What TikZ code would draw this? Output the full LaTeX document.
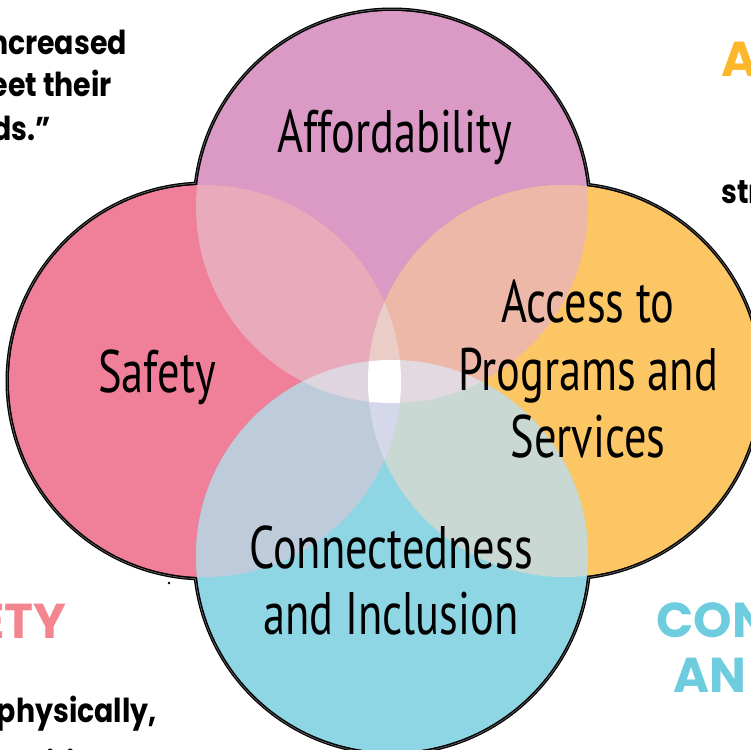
\documentclass[tikz,border=0pt]{standalone}
\usepackage{fontspec}
\newfontfamily\labelfont[FakeStretch=0.74]{PT Sans}
\newfontfamily\cornerfont[FakeStretch=0.86]{Poppins}
\newfontfamily\headfont{Poppins}
\definecolor{cT}{HTML}{DA9AC5}
\definecolor{cL}{HTML}{F0809A}
\definecolor{cR}{HTML}{FDC664}
\definecolor{cB}{HTML}{8ED6E3}
\definecolor{cTL}{HTML}{E9AABC}
\definecolor{cTR}{HTML}{EDB8A8}
\definecolor{cBL}{HTML}{BDCBDB}
\definecolor{cBR}{HTML}{C9D8D3}
\definecolor{cTLR}{HTML}{E9CDC6}
\definecolor{cBLR}{HTML}{D5D8EA}
\definecolor{cTBL}{HTML}{DED5DF}
\definecolor{cTBR}{HTML}{E3D9E1}
\definecolor{hOrange}{HTML}{FDB72A}
\definecolor{hPink}{HTML}{F4858F}
\definecolor{hCyan}{HTML}{6DCDDF}
\tikzset{
  lab/.style={font=\labelfont\fontsize{60}{68}\selectfont, inner sep=0pt, anchor=base, text=black},
  corner/.style={font=\cornerfont\bfseries\fontsize{33}{40}\selectfont, inner sep=0pt, text=black},
  head/.style={font=\headfont\bfseries\fontsize{49}{56}\selectfont, inner sep=0pt},
}
\begin{document}
\begin{tikzpicture}[x=1pt,y=-1pt]
\useasboundingbox (0,0) rectangle (751,749);
\clip (0,0) rectangle (751,749);
\coordinate (T) at (392,207);
\coordinate (L) at (205,381);
\coordinate (R) at (564,381);
\coordinate (B) at (392,556);
\def\rad{196pt}
% outline (outer halves of thick strokes)
\foreach \c in {T,L,R,B} \draw[black, line width=7pt] (\c) circle[radius=\rad];
\foreach \c in {T,L,R,B} \draw[black!55, line width=4.4pt] (\c) circle[radius=\rad];
\foreach \c in {T,L,R,B} \draw[black, line width=3pt] (\c) circle[radius=\rad];
% base fills
\fill[cT] (T) circle[radius=\rad];
\fill[cL] (L) circle[radius=\rad];
\fill[cR] (R) circle[radius=\rad];
\fill[cB] (B) circle[radius=\rad];
% pair overlaps
\begin{scope}\clip (T) circle[radius=\rad]; \fill[cTL] (L) circle[radius=\rad];\end{scope}
\begin{scope}\clip (T) circle[radius=\rad]; \fill[cTR] (R) circle[radius=\rad];\end{scope}
\begin{scope}\clip (B) circle[radius=\rad]; \fill[cBL] (L) circle[radius=\rad];\end{scope}
\begin{scope}\clip (B) circle[radius=\rad]; \fill[cBR] (R) circle[radius=\rad];\end{scope}
% triple overlaps
\begin{scope}\clip (L) circle[radius=\rad]; \clip (R) circle[radius=\rad]; \fill[cTLR] (T) circle[radius=\rad];\end{scope}
\begin{scope}\clip (L) circle[radius=\rad]; \clip (R) circle[radius=\rad]; \fill[cBLR] (B) circle[radius=\rad];\end{scope}
\begin{scope}\clip (T) circle[radius=\rad]; \clip (B) circle[radius=\rad]; \fill[cTBL] (L) circle[radius=\rad];\end{scope}
\begin{scope}\clip (T) circle[radius=\rad]; \clip (B) circle[radius=\rad]; \fill[cTBR] (R) circle[radius=\rad];\end{scope}
% all four
\begin{scope}\clip (T) circle[radius=\rad]; \clip (B) circle[radius=\rad]; \clip (L) circle[radius=\rad]; \fill[white] (R) circle[radius=\rad];\end{scope}
% labels
\node[lab] (aff) at (395,152) {Affordability};
\node[lab] (saf) at (157,392) {Safety};
\node[lab] (acc1) at (588,322) {Access to};
\node[lab] (acc2) at (588,390) {Programs and};
\node[lab] (acc3) at (588,457) {Services};
\node[lab] (con1) at (391,568) {Connectedness};
\node[lab] (con2) at (391,634) {and Inclusion};
% corner texts
\node[corner, anchor=base east] (tl1) at (127,55) {ncreased};
\node[corner, anchor=base east] (tl2) at (112,97) {eet their};
\node[corner, anchor=base east] (tl3) at (51,140) {ds.”};
\node[head, text=hOrange, anchor=base west] (tr1) at (721,77) {A};
\node[corner, anchor=base west] (tr2) at (721,203) {str};
\node[head, text=hPink, anchor=base east] (bl1) at (67,638) {ETY};
\node[corner, anchor=base east] (bl2) at (157,722) {physically,};
\node[corner, anchor=base east] (bl3) at (168,775) {spiritually,};
\node[head, text=hCyan, anchor=base west] (br1) at (656,637) {CON};
\node[head, text=hCyan, anchor=base west] (br2) at (673,692) {AN};
\fill[black] (169,583) circle[radius=1.3pt];
\end{tikzpicture}
\end{document}
